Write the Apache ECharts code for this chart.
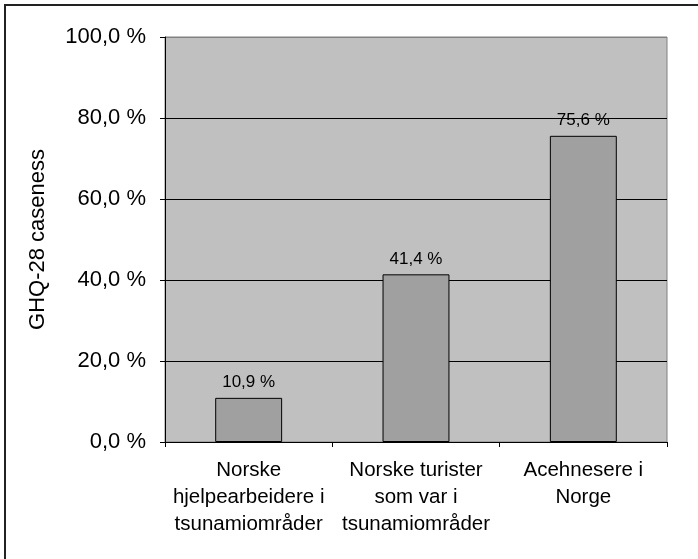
<!DOCTYPE html>
<html>
<head>
<meta charset="utf-8">
<script src="https://cdn.jsdelivr.net/npm/echarts@6/dist/echarts.min.js"></script>
<style>
  html, body { margin: 0; padding: 0; background: #fff; }
  #chart { width: 698px; height: 559px; }
</style>
</head>
<body>
<div id="chart"></div>
<script>
const categories = [
  "Norske\nhjelpearbeidere i\ntsunamiområder",
  "Norske turister\nsom var i\ntsunamiområder",
  "Acehnesere i\nNorge",
];
const values = [10.9, 41.4, 75.6];
const yTicks = { min: 0, max: 100, interval: 20 };
const yName = "GHQ-28 caseness";

const pct = (v) => v.toFixed(1).replace(".", ",") + " %";
const font = "'Liberation Sans', Arial, sans-serif";

const chart = echarts.init(document.getElementById("chart"));
chart.setOption({
  animation: false,
  backgroundColor: "#fff",
  textStyle: { fontFamily: font },
  graphic: [
    {
      type: "rect",
      shape: { x: 5, y: 5, width: 760, height: 620 },
      style: { fill: null, stroke: "#222", lineWidth: 2 },
      z: 100,
    },
  ],
  grid: {
    left: 165,
    top: 37,
    right: 31,
    bottom: 117,
    show: true,
    backgroundColor: "#c0c0c0",
    borderColor: "#808080",
    borderWidth: 1,
  },
  xAxis: {
    type: "category",
    data: categories,
    axisLine: { lineStyle: { color: "#000", width: 1 } },
    axisTick: { show: true, length: 5, lineStyle: { color: "#000" } },
    axisLabel: {
      color: "#000",
      fontSize: 20.5,
      lineHeight: 27,
      margin: 15,
      interval: 0,
      fontFamily: font,
    },
  },
  yAxis: {
    type: "value",
    min: yTicks.min,
    max: yTicks.max,
    interval: yTicks.interval,
    name: yName,
    nameLocation: "middle",
    nameGap: 116,
    nameTextStyle: { color: "#000", fontSize: 22, fontFamily: font },
    axisLine: { show: true, lineStyle: { color: "#000", width: 1 } },
    axisTick: { show: true, length: 5, lineStyle: { color: "#000" } },
    axisLabel: {
      color: "#000",
      fontSize: 22,
      margin: 19,
      formatter: (v) => pct(v),
      fontFamily: font,
    },
    splitLine: {
      show: true,
      lineStyle: {
        color: ["#000", "#000", "#000", "#000", "#000", "#808080"],
        width: 1,
      },
    },
  },
  series: [
    {
      type: "bar",
      data: values,
      barWidth: "40%",
      itemStyle: { color: "#a0a0a0", borderColor: "#000", borderWidth: 1 },
      label: {
        show: true,
        position: "top",
        distance: 7,
        color: "#000",
        fontSize: 17,
        fontFamily: font,
        formatter: (p) => pct(p.value),
      },
    },
  ],
});
</script>
</body>
</html>
